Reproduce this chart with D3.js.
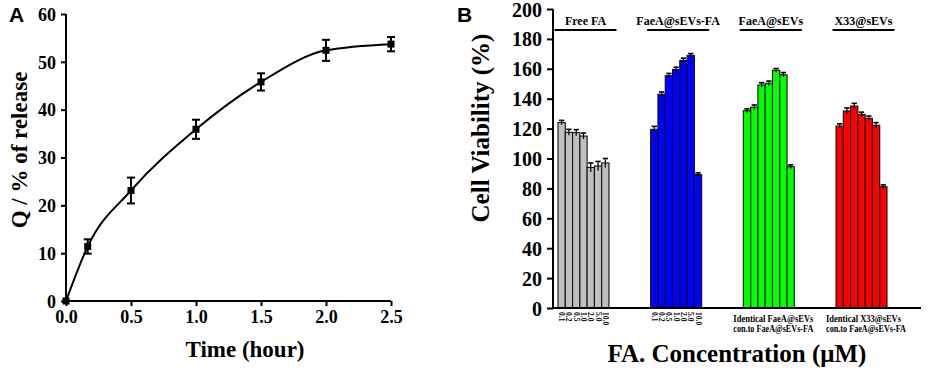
<!DOCTYPE html>
<html><head><meta charset="utf-8">
<script src="https://cdn.jsdelivr.net/npm/d3@7"></script>
<style>
body{margin:0;background:#fff;}
svg{display:block;}
text{font-family:"Liberation Serif","Times New Roman",serif;font-weight:bold;fill:#000;}
</style></head><body>
<svg id="c" width="948" height="375"></svg>
<script>
// Panel A data
const releaseTime = [0, 0.167, 0.5, 1.0, 1.5, 2.0, 2.5];
const releaseQ = [0, 11.4, 23.1, 35.9, 45.8, 52.4, 53.7];
const releaseErr = [0, 1.5, 2.7, 2.0, 1.8, 2.2, 1.5];
const timeTicks = [0, 0.5, 1.0, 1.5, 2.0, 2.5];
const qTicks = [0, 10, 20, 30, 40, 50, 60];

// Panel B data
const groups = ["Free FA", "FaeA@sEVs-FA", "FaeA@sEVs", "X33@sEVs"];
const concentrations = ["0.1", "0.2", "0.5", "1.0", "2.0", "5.0", "10.0"];
const freeFA = [124, 117.5, 117.3, 115, 94, 95, 97];
const freeFAErr = [1.5, 2, 2, 2, 3, 3, 3];
const faeaFA = [119.5, 143, 155.4, 159.6, 165.6, 169, 89.2];
const faeaFAErr = [2, 1.5, 1.5, 1.5, 1.5, 1.2, 1.2];
const faea = [132, 134.3, 149.2, 150.3, 159, 156, 94.5];
const faeaErr = [1.2, 1.5, 1.5, 1.5, 1.2, 1.5, 1.2];
const x33 = [121.7, 131.8, 135.1, 129.5, 126.9, 122.2, 81.1];
const x33Err = [1.5, 2, 1.8, 1.5, 1.5, 1.8, 1.2];
const groupColors = ["#c0c0c0", "#0000ff", "#00ff00", "#ff0000"];
const viabilityTicks = [0, 20, 40, 60, 80, 100, 120, 140, 160, 180, 200];
const bottomLabels = [null, null, ["Identical FaeA@sEVs", "con.to FaeA@sEVs-FA"], ["Identical X33@sEVs", "con.to FaeA@sEVs-FA"]];

const svg = d3.select("#c");

// ---------- Panel A ----------
const xA = d3.scaleLinear().domain([0, 2.5]).range([66, 391]);
const yA = d3.scaleLinear().domain([0, 60]).range([301, 14]);

const gA = svg.append("g");
const axXA = gA.append("g").attr("transform", "translate(0,301)")
  .call(d3.axisBottom(xA).tickValues(timeTicks).tickFormat(d3.format(".1f")).tickSize(5).tickPadding(4));
const axYA = gA.append("g").attr("transform", "translate(66,0)")
  .call(d3.axisLeft(yA).tickValues(qTicks).tickSize(5).tickPadding(5));
[axXA, axYA].forEach(a => {
  a.attr("font-family", null).attr("font-size", null);
  a.selectAll("path,line").attr("stroke", "#000").attr("stroke-width", 2);
  a.selectAll("text").style("font-size", "18px").style("font-family", "'Liberation Serif', serif");
});
axYA.selectAll("text").attr("dy", "0.35em");
axYA.select("path").attr("d", "M0,301V14");
axXA.select("path").attr("d", "M66,0H391");

const pts = releaseTime.map((t, i) => [t, releaseQ[i], releaseErr[i]]);
gA.append("path").datum(pts)
  .attr("d", d3.line().x(d => xA(d[0])).y(d => yA(d[1])).curve(d3.curveMonotoneX))
  .attr("fill", "none").attr("stroke", "#000").attr("stroke-width", 2);
const eb = gA.selectAll(".ebA").data(pts.filter(d => d[2] > 0)).join("g");
eb.append("line").attr("x1", d => xA(d[0])).attr("x2", d => xA(d[0]))
  .attr("y1", d => yA(d[1] - d[2])).attr("y2", d => yA(d[1] + d[2])).attr("stroke", "#000").attr("stroke-width", 2);
eb.append("line").attr("x1", d => xA(d[0]) - 4).attr("x2", d => xA(d[0]) + 4)
  .attr("y1", d => yA(d[1] - d[2])).attr("y2", d => yA(d[1] - d[2])).attr("stroke", "#000").attr("stroke-width", 2);
eb.append("line").attr("x1", d => xA(d[0]) - 4).attr("x2", d => xA(d[0]) + 4)
  .attr("y1", d => yA(d[1] + d[2])).attr("y2", d => yA(d[1] + d[2])).attr("stroke", "#000").attr("stroke-width", 2);
gA.selectAll(".sq").data(pts).join("rect")
  .attr("x", d => xA(d[0]) - 3.5).attr("y", d => yA(d[1]) - 3.5).attr("width", 7).attr("height", 7).attr("fill", "#000");

gA.append("text").attr("x", 245).attr("y", 357).attr("text-anchor", "middle").style("font-size", "23px").text("Time (hour)");
gA.append("text").attr("transform", "translate(27,150) rotate(-90)").attr("text-anchor", "middle").style("font-size", "23px").text("Q / % of release");
gA.append("text").attr("x", 9).attr("y", 22).style("font-family", "Liberation Sans").style("font-size", "21px").text("A");

// ---------- Panel B ----------
const yB = d3.scaleLinear().domain([0, 200]).range([308, 9]);
const xG = d3.scaleBand().domain(groups).range([558, 887]).paddingInner(0.45).paddingOuter(0);
const xC = d3.scaleBand().domain(concentrations).range([0, xG.bandwidth()]).padding(0);
const gB = svg.append("g");

const axYB = gB.append("g").attr("transform", "translate(553,0)")
  .call(d3.axisLeft(yB).tickValues(viabilityTicks).tickSize(6).tickPadding(5));
axYB.attr("font-family", null).attr("font-size", null);
axYB.selectAll("path,line").attr("stroke", "#000").attr("stroke-width", 2);
axYB.select("path").attr("d", "M0,308V9");
axYB.selectAll("text").style("font-size", "20px").style("font-family", "'Liberation Serif', serif").attr("dy", "0.35em");

const seriesVals = [freeFA, faeaFA, faea, x33];
const seriesErr = [freeFAErr, faeaFAErr, faeaErr, x33Err];
groups.forEach((g, gi) => {
  const gg = gB.append("g").attr("transform", `translate(${xG(g)},0)`);
  const data = concentrations.map((c, i) => ({c, v: seriesVals[gi][i], e: seriesErr[gi][i]}));
  gg.selectAll("rect").data(data).join("rect")
    .attr("x", d => xC(d.c)).attr("y", d => yB(d.v)).attr("width", xC.bandwidth())
    .attr("height", d => yB(0) - yB(d.v)).attr("fill", groupColors[gi]).attr("stroke", "#111").attr("stroke-width", 1.1);
  const e = gg.selectAll(".eb").data(data).join("g");
  e.append("line").attr("x1", d => xC(d.c) + xC.bandwidth() / 2).attr("x2", d => xC(d.c) + xC.bandwidth() / 2)
    .attr("y1", d => yB(d.v - d.e)).attr("y2", d => yB(d.v + d.e)).attr("stroke", "#000").attr("stroke-width", 1.2);
  e.append("line").attr("x1", d => xC(d.c) + 1).attr("x2", d => xC(d.c) + xC.bandwidth() - 1)
    .attr("y1", d => yB(d.v + d.e)).attr("y2", d => yB(d.v + d.e)).attr("stroke", "#000").attr("stroke-width", 1.6);
  // group header
  const cx = xG(g) + xG.bandwidth() / 2 + 2;
  gB.append("text").attr("x", cx).attr("y", 25).attr("text-anchor", "middle").style("font-size", "12px").text(g);
  gB.append("line").attr("x1", cx - 31).attr("x2", cx + 31).attr("y1", 30).attr("y2", 30).attr("stroke", "#000").attr("stroke-width", 2);
  // bottom labels
  if (bottomLabels[gi]) {
    bottomLabels[gi].forEach((t, li) => {
      gB.append("text").attr("x", xG(g) - 10).attr("y", 322 + li * 10).style("font-size", "9.5px")
        .attr("textLength", li === 0 ? (gi === 2 ? 80 : 75) : 80).attr("lengthAdjust", "spacingAndGlyphs").text(t);
    });
  } else {
    gg.selectAll(".tl").data(concentrations).join("text")
      .attr("transform", d => `translate(${xC(d) + xC.bandwidth() / 2 - 2.5},312) rotate(90)`)
      .style("font-size", "7.5px").text(d => d);
  }
});
gB.append("line").attr("x1", 553).attr("x2", 921).attr("y1", 308).attr("y2", 308).attr("stroke", "#000").attr("stroke-width", 2);

gB.append("text").attr("x", 737).attr("y", 362).attr("text-anchor", "middle").style("font-size", "25px").text("FA. Concentration (\u03bcM)");
gB.append("text").attr("transform", "translate(489,128) rotate(-90)").attr("text-anchor", "middle").style("font-size", "25px").text("Cell Viability (%)");
gB.append("text").attr("x", 457).attr("y", 22).style("font-family", "Liberation Sans").style("font-size", "21px").text("B");
</script></body></html>
